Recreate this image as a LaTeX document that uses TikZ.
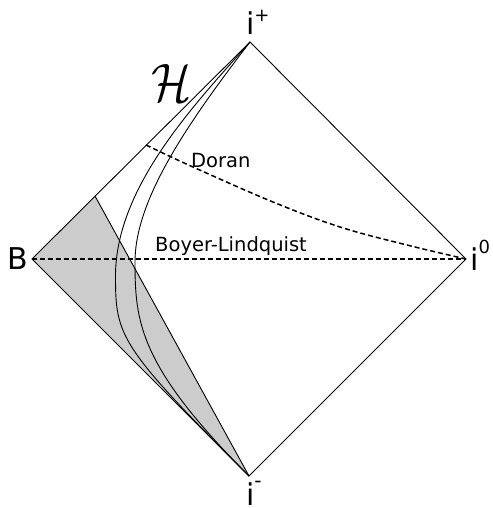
\documentclass[tikz,border=0pt]{standalone}
\usepackage{fontspec}
\setmainfont{DejaVu Sans}
\begin{document}
\begin{tikzpicture}[x=1pt,y=-1pt,
  edge/.style={line width=0.9pt, line join=miter},
  wl/.style={line width=0.9pt},
  coordl/.style={line width=1.5pt, dash pattern=on 5pt off 3pt},
  lbl/.style={anchor=base west, inner sep=0pt, font=\fontsize{19.5}{19.5}\selectfont},
  pt/.style={anchor=base west, inner sep=0pt, font=\fontsize{30}{30}\selectfont}]
\useasboundingbox (0,0) rectangle (492,508);
\coordinate (T) at (250,42);
\coordinate (R) at (466,259);
\coordinate (D) at (249,476);
\coordinate (L) at (32,259);
\coordinate (S) at (95,196);
\coordinate (Dstart) at (146,145);
\coordinate (P1) at (115.5,276);
\coordinate (P2) at (135,262);
% shaded region
\fill[gray!40] (L) -- (S) -- (D) -- cycle;
% diamond
\draw[edge] (T) -- (R) -- (D) -- (L) -- cycle;
\draw[wl] (S) -- (D);
% worldlines
\draw[wl] (T) .. controls (197,102) and (115.5,186) .. (P1)
              .. controls (115.5,336) and (119,346) .. (D);
\draw[wl] (T) .. controls (183,129) and (135,202) .. (P2)
              .. controls (135,322) and (139,366) .. (D);
% slices
\draw[coordl] (L) -- (R);
\draw[coordl] plot[smooth, tension=0.6] coordinates {(Dstart) (193,167) (273,202) (340,227) (407,245) (R)};
% labels
\node[lbl] (doran) at (191,167.7) {Doran};
\node[lbl] (bl) at (155,251.7) {Boyer-Lindquist};
\node[pt] (lB) at (7,269) {B};
\node[pt] (lT) at (245.8,35) {i\raisebox{13pt}{\fontsize{18}{18}\selectfont +}};
\node[pt] (lR) at (470,270) {i\raisebox{17pt}{\fontsize{18}{18}\selectfont 0}};
\node[pt] (lD) at (245.8,505) {i\raisebox{18pt}{\fontsize{20}{20}\selectfont -}};
\node[inner sep=0pt] (hor) at (171.5,83) {\resizebox{40pt}{37pt}{$\mathcal{H}$}};
\end{tikzpicture}
\end{document}
